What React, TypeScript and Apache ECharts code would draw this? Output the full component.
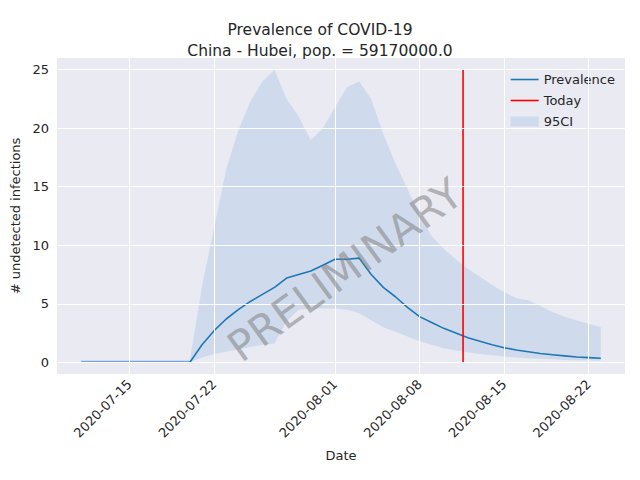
import React, { useEffect, useRef } from "react";
import * as echarts from "echarts";

// day 0 = 2020-07-11
const startDate = new Date(2020, 6, 11);
const prevalence = [0, 0, 0, 0, 0, 0, 0, 0, 0, 0, 1.5, 2.7, 3.7, 4.5, 5.2, 5.8, 6.4, 7.2, 7.5, 7.8, 8.3, 8.8, 8.8, 8.9, 7.5, 6.4, 5.6, 4.7, 3.9, 3.4, 2.9, 2.5, 2.1, 1.8, 1.5, 1.25, 1.05, 0.9, 0.75, 0.65, 0.55, 0.45, 0.4, 0.35];
const upper = [0.2, 0.2, 0.2, 0.2, 0.2, 0.2, 0.2, 0.2, 0.2, 0.2, 6.5, 11.5, 16.5, 19.8, 22.3, 24, 25, 22.5, 21, 19, 20, 21.8, 23.5, 24, 22.5, 19.5, 17, 14.8, 12.6, 10.8, 9.7, 8.8, 8.0, 7.3, 6.6, 6.0, 5.5, 5.3, 4.8, 4.3, 3.9, 3.6, 3.3, 3.0];
const lower = [0, 0, 0, 0, 0, 0, 0, 0, 0, 0, 0.4, 0.7, 0.9, 1.1, 1.3, 1.5, 1.6, 3.5, 4.5, 4.6, 4.6, 4.6, 4.5, 4.2, 3.6, 3.0, 2.6, 2.2, 1.8, 1.5, 1.2, 1.0, 0.85, 0.7, 0.6, 0.5, 0.4, 0.35, 0.3, 0.25, 0.2, 0.18, 0.15, 0.13];
const xTickDays = [4, 11, 21, 28, 35, 42];
const yTicks = [0, 5, 10, 15, 20, 25];
const todayDay = 31.6;
const todayRange = [0, 25];

const fmt = (d: number) => {
  const t = new Date(startDate.getTime() + d * 86400000);
  const m = String(t.getMonth() + 1).padStart(2, "0");
  const dd = String(t.getDate()).padStart(2, "0");
  return `${t.getFullYear()}-${m}-${dd}`;
};

const bandColor = "rgba(176,201,229,0.45)";

const App: React.FC = () => {
  const chartRef = useRef<HTMLDivElement>(null);

  useEffect(() => {
    if (!chartRef.current) return;
    const chart = echarts.init(chartRef.current, undefined, { renderer: "svg" });
    const font = "DejaVu Sans";

    const option: echarts.EChartsOption = {
      animation: false,
      backgroundColor: "#fff",
      textStyle: { fontFamily: font },
      title: {
        text: "Prevalence of COVID-19\nChina - Hubei, pop. = 59170000.0",
        left: "center",
        top: 14,
        textStyle: { fontFamily: font, fontSize: 15.5, fontWeight: "normal", color: "#262626", lineHeight: 21 },
      },
      grid: { left: 57, right: 15, top: 58, bottom: 106, show: true, backgroundColor: "#EAEAF2", borderWidth: 0 },
      legend: {
        right: 20,
        top: 68,
        orient: "vertical",
        itemGap: 8,
        itemWidth: 28,
        itemHeight: 10,
        textStyle: { fontFamily: font, fontSize: 13, color: "#262626" },
        data: [
          { name: "Prevalence", icon: "path://M0,4.2L28,4.2L28,5.8L0,5.8Z" },
          { name: "Today", icon: "path://M0,4.2L28,4.2L28,5.8L0,5.8Z" },
          { name: "95CI", icon: "rect", itemStyle: { color: bandColor } },
        ],
      },
      xAxis: {
        type: "value",
        min: -2,
        max: 45,
        interval: 1,
        name: "Date",
        nameLocation: "middle",
        nameGap: 75,
        nameTextStyle: { fontSize: 13, color: "#262626" },
        axisLine: { show: false },
        axisTick: { show: false },
        splitLine: { show: false },
        axisLabel: {
          rotate: 45,
          fontSize: 13,
          color: "#262626",
          margin: 8,
          formatter: (v: number) => (xTickDays.includes(v) ? fmt(v) : ""),
        },
      },
      yAxis: {
        type: "value",
        min: -1,
        max: 26,
        interval: 1,
        name: "# undetected infections",
        nameLocation: "middle",
        nameGap: 34,
        nameTextStyle: { fontSize: 13, color: "#262626" },
        axisLine: { show: false },
        axisTick: { show: false },
        splitLine: { show: false },
        axisLabel: {
          fontSize: 13,
          color: "#262626",
          formatter: (v: number) => (yTicks.includes(v) ? String(v) : ""),
        },
      },
      graphic: [
        {
          type: "text",
          x: 345,
          y: 270,
          rotation: (36 * Math.PI) / 180,
          z: 100,
          style: {
            text: "PRELIMINARY",
            fontFamily: font,
            fontSize: 42,
            fill: "rgba(128,128,128,0.55)",
            align: "center",
            verticalAlign: "middle",
          },
        },
      ],
      series: [
        {
          name: "gridlines",
          type: "line",
          symbol: "none",
          silent: true,
          data: [],
          markLine: {
            silent: true,
            symbol: "none",
            label: { show: false },
            lineStyle: { color: "#fff", type: "solid", width: 1 },
            data: [
              ...xTickDays.map((d) => ({ xAxis: d })),
              ...yTicks.map((v) => ({ yAxis: v })),
            ] as any,
          },
        },
        {
          name: "95CI",
          type: "custom",
          silent: true,
          color: bandColor,
          data: [0],
          renderItem: (params: any, api: any) => {
            const pts: number[][] = [];
            upper.forEach((v, i) => pts.push(api.coord([i, v])));
            for (let i = lower.length - 1; i >= 0; i--) pts.push(api.coord([i, lower[i]]));
            return { type: "polygon", shape: { points: pts }, style: { fill: bandColor } };
          },
        } as any,
        {
          name: "Prevalence",
          type: "line",
          symbol: "none",
          color: "#1f77b4",
          lineStyle: { width: 1.6 },
          data: prevalence.map((v, i) => [i, v]),
        },
        {
          name: "Today",
          type: "line",
          symbol: "none",
          color: "#ff0000",
          lineStyle: { width: 1.6 },
          data: todayRange.map((v) => [todayDay, v]),
        },
      ],
    };

    chart.setOption(option);
    return () => chart.dispose();
  }, []);

  return <div ref={chartRef} style={{ width: 640, height: 480, margin: -8 }} />;
};

export default App;
